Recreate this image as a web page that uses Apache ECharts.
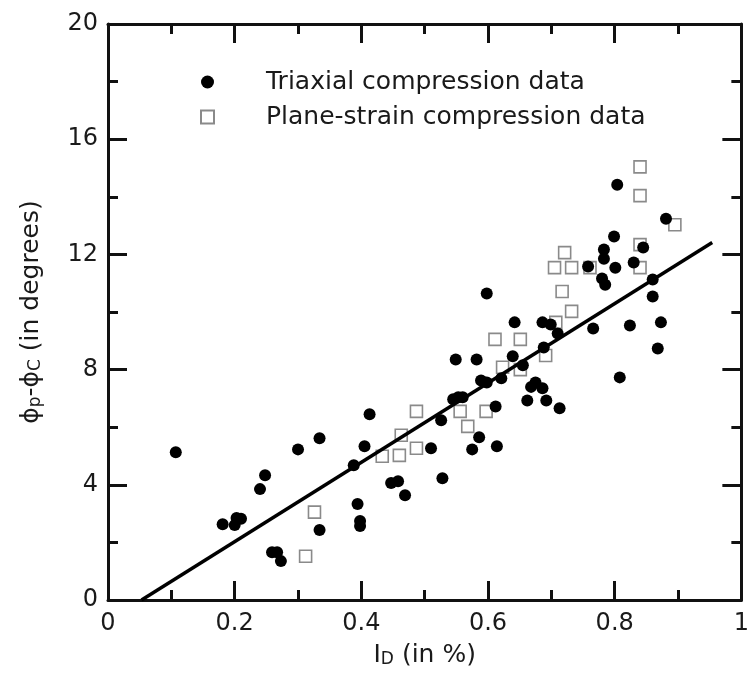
<!DOCTYPE html>
<html><head><meta charset="utf-8">
<script src="https://cdn.jsdelivr.net/npm/echarts@6/dist/echarts.min.js"></script>
<style>html,body{margin:0;padding:0;background:#fff}#c{width:752px;height:673px}</style>
</head><body><div id="c"></div>
<script>
var triaxialX = [0.107,0.181,0.200,0.203,0.210,0.240,0.248,0.259,0.267,0.273,0.300,0.334,0.334,0.388,0.394,0.398,0.398,0.405,0.413,0.447,0.458,0.469,0.510,0.526,0.528,0.545,0.553,0.560,0.549,0.575,0.582,0.586,0.589,0.598,0.598,0.612,0.614,0.621,0.639,0.642,0.655,0.662,0.668,0.675,0.686,0.686,0.688,0.692,0.699,0.710,0.713,0.758,0.766,0.780,0.785,0.783,0.783,0.799,0.801,0.804,0.808,0.824,0.830,0.845,0.860,0.860,0.868,0.873,0.881];
var triaxialY = [5.13,2.63,2.60,2.85,2.82,3.85,4.33,1.66,1.66,1.35,5.23,5.62,2.43,4.68,3.33,2.74,2.57,5.34,6.45,4.06,4.12,3.64,5.27,6.24,4.23,6.97,7.04,7.04,8.35,5.23,8.35,5.65,7.62,7.55,10.64,6.72,5.34,7.70,8.46,9.64,8.15,6.93,7.40,7.55,7.35,9.64,8.77,6.93,9.57,9.25,6.66,11.58,9.43,11.16,10.95,12.17,11.85,12.62,11.54,14.42,7.73,9.53,11.72,12.24,11.13,10.54,8.73,9.64,13.24];
var planeX = [0.312,0.326,0.433,0.460,0.463,0.487,0.487,0.556,0.568,0.597,0.611,0.623,0.651,0.651,0.691,0.705,0.707,0.717,0.721,0.732,0.732,0.761,0.840,0.840,0.840,0.840,0.895];
var planeY = [1.52,3.05,4.99,5.02,5.72,5.27,6.55,6.55,6.03,6.55,9.05,8.08,9.05,8.00,8.49,11.54,9.64,10.71,12.06,11.54,10.02,11.54,15.04,14.04,12.34,11.54,13.03];
var fitX = [0.053,0.954];
var fitY = [0,12.41];
var seriesNames = ['Triaxial compression data','Plane-strain compression data'];

function pairs(xs, ys){ return xs.map(function(x,i){return [x, ys[i]];}); }

var chart = echarts.init(document.getElementById('c'));
var font = 'DejaVu Sans';
var txt = '#1a1a1a';
var axisCommon = {
  axisLine:{show:true,onZero:false,lineStyle:{color:'#111',width:3}},
  axisTick:{show:true,inside:true,length:19,lineStyle:{color:'#111',width:3}},
  minorTick:{show:true,splitNumber:2,length:10,lineStyle:{color:'#111',width:3}},
  splitLine:{show:false}
};
chart.setOption({
  animation:false,
  backgroundColor:'#fff',
  grid:{left:108,right:7,top:24,bottom:72,show:false},
  legend:{
    data:seriesNames,
    orient:'vertical',left:195,top:62,
    itemWidth:13,itemHeight:13,itemGap:5,
    textStyle:{fontFamily:font,fontSize:25,color:txt,lineHeight:30,padding:[0,0,0,47]}
  },
  xAxis:[
    Object.assign({type:'value',min:0,max:1,interval:0.2,position:'bottom',
      name:'{a|I}{s|D}{a| (in %)}',nameLocation:'middle',nameGap:38,
      nameTextStyle:{rich:{a:{fontFamily:font,fontSize:25,color:txt,lineHeight:30,verticalAlign:'bottom'},s:{fontFamily:font,fontSize:17,color:txt,lineHeight:22,verticalAlign:'bottom'}}},
      axisLabel:{fontFamily:font,fontSize:24,color:txt,margin:12}}, axisCommon),
    Object.assign({type:'value',min:0,max:1,interval:0.2,position:'top',axisLabel:{show:false}}, axisCommon)
  ],
  yAxis:[
    Object.assign({type:'value',min:0,max:20,interval:4,position:'left',
      name:'{a|ϕ}{s|p}{a|-ϕ}{s|C}{a| (in degrees)}',nameLocation:'middle',nameGap:64,
      nameTextStyle:{rich:{a:{fontFamily:font,fontSize:25,color:txt,lineHeight:30,verticalAlign:'bottom'},s:{fontFamily:font,fontSize:17,color:txt,lineHeight:22,verticalAlign:'bottom'}}},
      axisLabel:{fontFamily:font,fontSize:24,color:txt,margin:10}}, axisCommon),
    Object.assign({type:'value',min:0,max:20,interval:4,position:'right',axisLabel:{show:false}}, axisCommon)
  ],
  series:[
    {name:seriesNames[1],type:'scatter',symbol:'rect',symbolSize:12,
     itemStyle:{color:'rgba(255,255,255,0)',borderColor:'#8a8a8a',borderWidth:1.6,opacity:1},
     data:pairs(planeX,planeY),z:2},
    {name:seriesNames[0],type:'scatter',symbol:'circle',symbolSize:12,
     itemStyle:{color:'#000',opacity:1},data:pairs(triaxialX,triaxialY),z:3},
    {name:'fit',type:'line',data:pairs(fitX,fitY),symbol:'none',
     lineStyle:{color:'#000',width:3.5},z:4}
  ]
});
</script></body></html>
